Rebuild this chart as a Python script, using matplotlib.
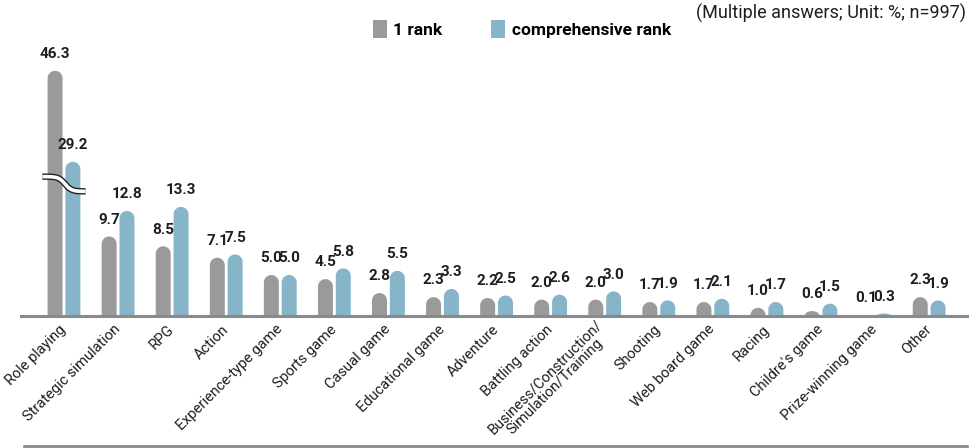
import matplotlib
matplotlib.use("Agg")
import matplotlib.pyplot as plt
import numpy as np
from matplotlib.patches import Polygon, Patch
from matplotlib.lines import Line2D

plt.rcParams['font.family'] = ['Roboto', 'DejaVu Sans']

# data
genres = ["Role playing", "Strategic simulation", "RPG", "Action", "Experience-type game",
          "Sports game", "Casual game", "Educational game", "Adventure", "Battling action",
          "Business/Construction/\nSimulation/Training", "Shooting", "Web board game",
          "Racing", "Childre's game", "Prize-winning game", "Other"]
first_rank = [46.3, 9.7, 8.5, 7.1, 5.0, 4.5, 2.8, 2.3, 2.2, 2.0, 2.0, 1.7, 1.7, 1.0, 0.6, 0.1, 2.3]
comp_rank = [29.2, 12.8, 13.3, 7.5, 5.0, 5.8, 5.5, 3.3, 2.5, 2.6, 3.0, 1.9, 2.1, 1.7, 1.5, 0.3, 1.9]
# the role playing bars are cut by an axis break, so they are drawn shorter
broken_drawn = [29.9, 18.8]

gray = "#9a9a9a"
blue = "#86b4c9"

W, H = 973, 448
fig = plt.figure(figsize=(W / 100, H / 100), dpi=100)
ax_l, ax_r, ax_b, ax_t = 21, 967, 316, 40   # pixel box of the plot
ax = fig.add_axes([ax_l / W, (H - ax_b) / H, (ax_r - ax_l) / W, (ax_b - ax_t) / H])

px_per_y = 8.2
xmin, xmax = -0.795, 16.70
ymax = (ax_b - ax_t) / px_per_y
ax.set_xlim(xmin, xmax)
ax.set_ylim(0, ymax)
px_per_x = (ax_r - ax_l) / (xmax - xmin)

bar_w = 0.277
off = 0.165
hw = bar_w / 2
cap_y = hw * px_per_x / px_per_y


def rounded_bar(xc, h, color):
    ry = min(cap_y, h)
    t = np.linspace(0, np.pi, 30)
    arc = np.column_stack([xc + hw * np.cos(t), h - ry + ry * np.sin(t)])
    pts = np.vstack([[xc - hw, 0], [xc + hw, 0], arc, [xc - hw, 0]])
    ax.add_patch(Polygon(pts, closed=True, facecolor=color, edgecolor="none", zorder=2))


x = np.arange(len(genres))
for i in x:
    h1, h2 = first_rank[i], comp_rank[i]
    if i == 0:
        h1, h2 = broken_drawn
    rounded_bar(i - off, h1, gray)
    rounded_bar(i + off, h2, blue)
    ax.annotate(f"{first_rank[i]:.1f}", (i - off, h1), xytext=(0, 7), textcoords="offset points",
                ha="center", va="bottom", fontsize=11, fontweight="bold", color="#1e1e1e")
    ax.annotate(f"{comp_rank[i]:.1f}", (i + off, h2), xytext=(0, 7), textcoords="offset points",
                ha="center", va="bottom", fontsize=11, fontweight="bold", color="#1e1e1e")

# break mark on the role playing group
bx = np.linspace(-0.40, 0.40, 60)
by = 16.1 - 0.9 * np.tanh((bx - 0.02) / 0.12)
ax.plot(bx, by, color="#222222", lw=4.6, solid_capstyle="butt", zorder=3)
ax.plot(bx, by, color="white", lw=2.6, solid_capstyle="butt", zorder=4)

for s in ["top", "right", "left"]:
    ax.spines[s].set_visible(False)
ax.spines["bottom"].set_color("#8a8a8a")
ax.spines["bottom"].set_linewidth(2.2)
ax.spines["bottom"].set_zorder(5)
ax.set_yticks([])
ax.set_xticks(x)
ax.set_xticklabels(genres, rotation=45, ha="right", va="center", rotation_mode="anchor",
                   fontsize=10.5, color="#1e1e1e", multialignment="center", linespacing=1.0)
ax.tick_params(axis="x", length=0, pad=8)

handles = [Patch(facecolor=gray, edgecolor="none"), Patch(facecolor=blue, edgecolor="none")]
fig.legend(handles, ["1 rank", "comprehensive rank"], ncol=2, loc="center",
           bbox_to_anchor=(522 / W, 1 - 29 / H), frameon=False, handlelength=0.8,
           handleheight=1.2, handletextpad=0.4, columnspacing=2.8,
           prop={"size": 12.5, "weight": "bold"})
fig.text(966 / W, 1 - 4 / H, "(Multiple answers; Unit: %; n=997)", ha="right", va="top",
         fontsize=13, color="#1e1e1e")

fig.add_artist(Line2D([24 / W, 967 / W], [1 - 446 / H] * 2, color="#8a8a8a", lw=2))

fig.savefig("out.png", dpi=100)
